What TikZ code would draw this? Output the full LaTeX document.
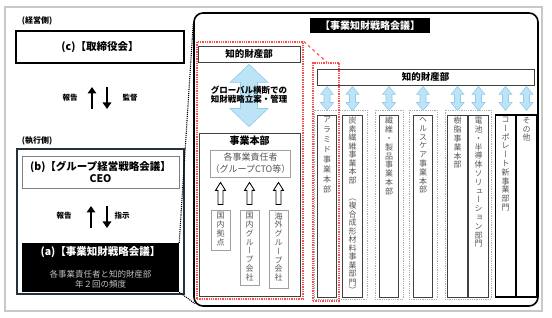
\documentclass[tikz,border=0pt]{standalone}
\usepackage{fontspec}
\setmainfont{Noto Sans CJK JP}
\newfontfamily\vfont[RawFeature=+vert]{Noto Sans CJK JP}
\usetikzlibrary{calc,arrows.meta}
\definecolor{dk}{HTML}{404040}
\definecolor{txtg}{HTML}{555555}
\definecolor{lg}{HTML}{A0A0A0}
\definecolor{frameg}{HTML}{C8C8C8}
\definecolor{navy}{HTML}{23323C}
\definecolor{redd}{HTML}{FF4B4B}
\definecolor{gdot}{HTML}{A8B0B8}
\definecolor{lblue}{HTML}{BDE3F6}
\definecolor{lbluedk}{HTML}{8FCBEA}
\definecolor{agray}{HTML}{BFBFBF}
\makeatletter
\newcommand\vtxt[2]{\vbox{\vfont\baselineskip=#1pt\lineskiplimit=-20pt\lineskip=0pt\@tfor\vt@c:=#2\do{\hbox to 0pt{\hss\vt@c\hss}}}}
\makeatother
\newcommand\hollowup[2]{\draw[hollow] let \p1=(#1), \p2=(#2) in
 ({\x1-2.5pt},{\y1+5pt}) -- ({\x1+2.5pt},{\y1+5pt}) -- ({\x1+2.5pt},{\y2-13pt}) -- ({\x1+5pt},{\y2-13pt}) -- ({\x1},{\y2-5pt}) -- ({\x1-5pt},{\y2-13pt}) -- ({\x1-2.5pt},{\y2-13pt}) -- cycle;}
\newcommand\dblv[5]{\draw[bluearrow] let \p1=#1, \p2=#2 in
 ({\x1},{\y1}) -- ({\x1+#3},{\y1-#5}) -- ({\x1+#4},{\y1-#5}) -- ({\x1+#4},{\y2+#5}) -- ({\x1+#3},{\y2+#5}) -- ({\x1},{\y2}) -- ({\x1-#3},{\y2+#5}) -- ({\x1-#4},{\y2+#5}) -- ({\x1-#4},{\y1-#5}) -- ({\x1-#3},{\y1-#5}) -- cycle;}
\tikzset{
 t8b/.style={font=\fontsize{8}{9}\selectfont\bfseries, inner sep=0pt},
 t7b/.style={font=\fontsize{7.5}{9}\selectfont\bfseries, inner sep=0pt},
 ipbox/.style={draw=dk, line width=0.9pt, inner sep=0pt, font=\fontsize{9.5}{11}\selectfont\bfseries},
 colbox/.style={draw=dk, line width=0.9pt, inner sep=0pt, minimum width=19.5, minimum height=182},
 colboxk/.style={draw=black, line width=1.2pt, inner sep=0pt, minimum width=19.5, minimum height=182},
 vt/.style={anchor=north, inner sep=0pt, font=\fontsize{8}{9}\selectfont, text=txtg},
 smallbox/.style={draw=lg, line width=0.8pt, inner sep=0pt, minimum width=19},
 reddot/.style={draw=redd, densely dotted, line width=1.3pt, inner sep=0pt},
 gdots/.style={draw=gdot, densely dotted, line width=0.8pt, inner sep=0pt, minimum height=189},
 blkarrow/.style={line width=2.8pt, -{Triangle[length=6.5pt,width=8.5pt]}},
 hollow/.style={draw=black, fill=white, line width=0.8pt},
 bluearrow/.style={fill=lblue, draw=lbluedk, line width=0.6pt},
 callout/.style={draw=black, densely dotted, line width=1.1pt}
}
\begin{document}
\begin{tikzpicture}[x=1pt,y=-1pt]
\useasboundingbox (0,0) rectangle (552,318);
\draw[frameg, line width=1.5pt] (5,7) rectangle (542,311);

% ---- left side
\node[t8b] (keiei) at (37,21) {(経営側)};
\node[draw=black, line width=1.2pt, minimum width=168, minimum height=32, inner sep=0pt, font=\fontsize{10.5}{12}\selectfont\bfseries] (cbox) at (100,47) {(c)【取締役会】};
\coordinate (u1b) at (92,109); \coordinate (u1t) at (92,87);
\coordinate (d1t) at (107,87); \coordinate (d1b) at (107,109);
\draw[blkarrow] (u1b) -- (u1t);
\draw[blkarrow] (d1t) -- (d1b);
\node[t7b] (hk1) at (70,98) {報告};
\node[t7b] (kt) at (130,98) {監督};

\node[t8b] (shikko) at (37,141) {(執行側)};
\node[draw=navy, line width=1.5pt, minimum width=167, minimum height=145, inner sep=0pt] (exec) at (100.5,221.5) {};
\node[draw=gray, line width=0.8pt, minimum width=157, minimum height=32, inner sep=0pt, font=\fontsize{10.5}{12}\selectfont\bfseries, align=center] (bbox) at (100.5,172) {(b)【グループ経営戦略会議】\\CEO};
\coordinate (u2b) at (91,228); \coordinate (u2t) at (91,206);
\coordinate (d2t) at (107,206); \coordinate (d2b) at (107,228);
\draw[blkarrow] (u2b) -- (u2t);
\draw[blkarrow] (d2t) -- (d2b);
\node[t7b] (hk2) at (64,216) {報告};
\node[t7b] (sj) at (122,216) {指示};

\node[fill=black, minimum width=157, minimum height=49, inner sep=0pt] (abox) at (100.5,267.5) {};
\node[font=\fontsize{10.5}{12}\selectfont\bfseries, text=white, inner sep=0pt] (atitle) at (100.5,252) {(a)【事業知財戦略会議】};
\node[font=\fontsize{8.5}{9.5}\selectfont, text=agray, inner sep=0pt, align=center] (atext) at (100.5,279.5) {各事業責任者と知的財産部\\年２回の頻度};

% ---- big rounded box
\node[draw=black, line width=1.6pt, rounded corners=9pt, minimum width=344, minimum height=293, inner sep=0pt] (big) at (366,159.5) {};
\draw[callout] (abox.north east) -- ($(big.north west)+(0,12)$);
\draw[callout] (abox.south east) -- ($(big.south west)+(2,-3)$);
\node[fill=black, text=white, minimum width=120, minimum height=15, inner sep=0pt, font=\fontsize{10}{11}\selectfont\bfseries] (title) at (370,25.5) {【事業知財戦略会議】};

% left section
\node[reddot, minimum width=106, minimum height=257] (red1) at (250,170.5) {};
\node[ipbox, minimum width=102, minimum height=16] (ipL) at (249,54) {知的財産部};
\node[draw=dk, line width=0.9pt, minimum width=101, minimum height=163, inner sep=0pt] (hq) at (249.5,214.5) {};
\dblv{($(ipL.south)+(0,2)$)}{($(hq.north)+(0,-6)$)}{19pt}{8.5pt}{18pt}
\node[font=\fontsize{8.5}{9.5}\selectfont\bfseries, inner sep=0pt, align=center] (glob) at (249,94.5) {グローバル横断での\\知財戦略立案・管理};
\node[font=\fontsize{10}{11}\selectfont\bfseries, inner sep=0pt] (hqt) at (249.5,141) {事業本部};
\node[draw=lg, line width=0.8pt, minimum width=79, minimum height=27, inner sep=0pt, align=center, font=\fontsize{9}{12}\selectfont, text=txtg] (resp) at (250.5,163.5) {各事業責任者\\（グループCTO等）};
\node[smallbox, minimum height=40] (s1) at (220.5,230) {};
\node[smallbox, minimum height=75] (s2) at (249.5,247.5) {};
\node[smallbox, minimum height=78] (s3) at (278.5,249) {};
\node[vt] (s1t) at ($(s1.north)+(0,2.5)$) {\vtxt{8.8}{国内拠点}};
\node[vt] (s2t) at ($(s2.north)+(0,2.5)$) {\vtxt{8.8}{国内グループ会社}};
\node[vt] (s3t) at ($(s3.north)+(0,2.5)$) {\vtxt{8.8}{海外グループ会社}};
\hollowup{s1.north}{resp.south}
\hollowup{s2.north}{resp.south}
\hollowup{s3.north}{resp.south}

% right section
\node[ipbox, minimum width=217, minimum height=16] (ipR) at (425.5,77) {知的財産部};
\node[gdots, minimum width=53] (g1) at (340.5,204.5) {};
\node[gdots, minimum width=28] (g2) at (389,204.5) {};
\node[gdots, minimum width=28] (g3) at (423,204.5) {};
\node[gdots, minimum width=46] (g4) at (468,204.5) {};
\node[reddot, minimum width=26, minimum height=238] (red2) at (326,182) {};
\draw[redd, dashed, line width=1.1pt] (red1.north east) -- ($(red2.north)+(1,0)$);

\node[colbox] (col1) at (327,206) {};
\node[colbox] (col2) at (352.5,206) {};
\node[colbox] (col3) at (389,206) {};
\node[colbox] (col4) at (423,206) {};
\node[colbox] (col5) at (457.5,206) {};
\node[colbox] (col6) at (478.5,206) {};
\node[colboxk] (col7) at (505.5,206) {};
\node[colboxk] (col8) at (526.5,206) {};
\node[vt] (c1t) at ($(col1.north)+(0,2.5)$) {\vtxt{10}{アラミド事業本部}};
\node[vt] (c2t) at ($(col2.north)+(0,2.5)$) {\vtxt{8.5}{炭素繊維事業本部　（複合成形材料事業部門）}};
\node[vt] (c3t) at ($(col3.north)+(0,2.5)$) {\vtxt{8.8}{繊維・製品事業本部}};
\node[vt] (c4t) at ($(col4.north)+(0,2.5)$) {\vtxt{8.8}{ヘルスケア事業本部}};
\node[vt] (c5t) at ($(col5.north)+(0,2.5)$) {\vtxt{8.8}{樹脂事業本部}};
\node[vt] (c6t) at ($(col6.north)+(0,2.5)$) {\vtxt{8.8}{電池・半導体ソリューション部門}};
\node[vt] (c7t) at ($(col7.north)+(0,2.5)$) {\vtxt{8.8}{コーポレート新事業部門}};
\node[vt] (c8t) at ($(col8.north)+(0,2.5)$) {\vtxt{8.8}{その他}};
\foreach \c in {col1,col2,col3,col4,col5,col6,col7,col8}{
 \dblv{($(ipR.south -| \c.north)+(0,1)$)}{($(\c.north)+(0,-4)$)}{6.5pt}{3pt}{8pt}
}
\end{tikzpicture}
\end{document}
